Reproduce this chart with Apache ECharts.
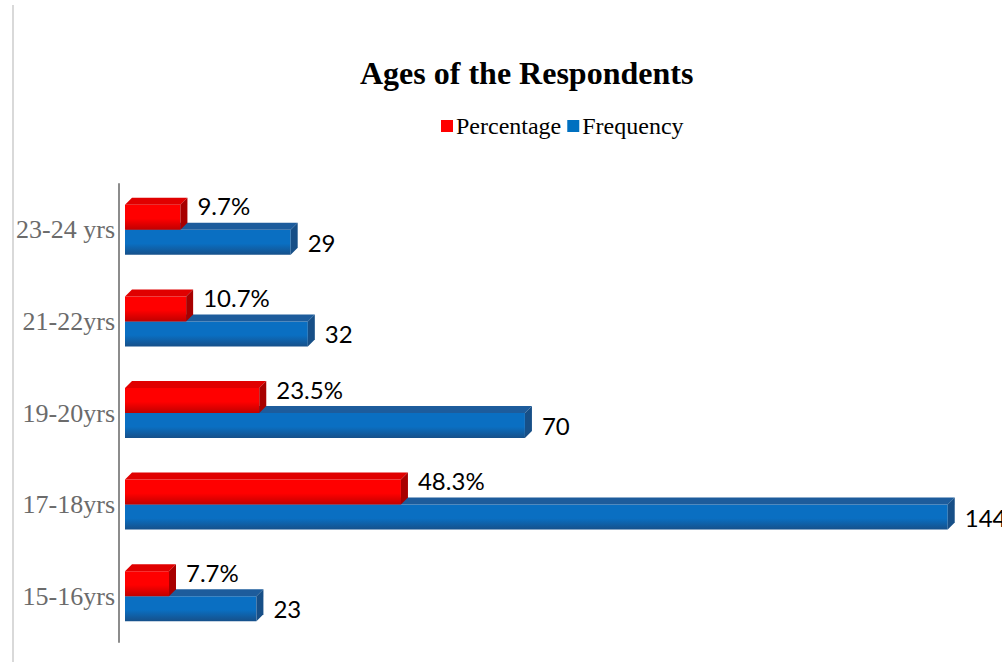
<!DOCTYPE html>
<html>
<head>
<meta charset="utf-8">
<script src="https://cdn.jsdelivr.net/npm/echarts@6/dist/echarts.min.js"></script>
<style>
html,body{margin:0;padding:0;background:#fff;}
#chart{width:1002px;height:662px;}
</style>
</head>
<body>
<div id="chart"></div>
<script>
const categories = ['15-16yrs', '17-18yrs', '19-20yrs', '21-22yrs', '23-24 yrs'];
const percentage = [7.7, 48.3, 23.5, 10.7, 9.7];
const frequency = [23, 144, 70, 32, 29];
const seriesNames = ['Percentage', 'Frequency'];

const BAR_H = 25, DEPTH = 7;

const palette = {
  Percentage: { front: '#ff0000', top: '#e00000', side: '#a80000', edge: '#c00000' },
  Frequency: { front: '#0a6fc2', top: '#1d5c9c', side: '#174f87', edge: '#16508a' }
};

function makeRender(name, above, fmt) {
  const c = palette[name];
  return function (params, api) {
    const v = api.value(0);
    const idx = api.value(1);
    const s = api.coord([0, idx]);
    const e = api.coord([v, idx]);
    const x0 = s[0], x1 = e[0], cy = s[1];
    const top = above ? cy - BAR_H : cy;
    const bottom = top + BAR_H;
    const d = DEPTH;
    const labelY = above ? top + 1 : top + BAR_H / 2;
    return {
      type: 'group',
      children: [
        { type: 'rect', shape: { x: x0, y: top, width: x1 - x0, height: BAR_H },
          style: { fill: new echarts.graphic.LinearGradient(0, 0, 0, 1, [
            { offset: 0, color: c.front }, { offset: 0.55, color: c.front }, { offset: 1, color: c.edge }]) } },
        { type: 'polygon', shape: { points: [[x0, top], [x0 + d, top - d], [x1 + d, top - d], [x1, top]] },
          style: { fill: c.top } },
        { type: 'polygon', shape: { points: [[x1, top], [x1 + d, top - d], [x1 + d, bottom - d], [x1, bottom]] },
          style: { fill: c.side } },
        { type: 'text', style: { text: fmt(v), x: x1 + d + 10, y: labelY,
          verticalAlign: 'middle', align: 'left', fill: '#000',
          font: '24px Lato, "Open Sans", sans-serif' } }
      ]
    };
  };
}

const chart = echarts.init(document.getElementById('chart'), null, { renderer: 'svg' });
chart.setOption({
  backgroundColor: '#fff',
  animation: false,
  title: {
    text: 'Ages of the Respondents',
    left: 355, top: 52,
    textStyle: { fontFamily: '"Liberation Serif", serif', fontWeight: 'bold', fontSize: 32, color: '#000' }
  },
  legend: {
    data: seriesNames,
    left: 436, top: 109,
    icon: 'rect', itemWidth: 12, itemHeight: 12, itemGap: 6,
    textStyle: { fontFamily: '"Liberation Serif", serif', fontSize: 24, color: '#000', padding: [0, 0, 0, -2] }
  },
  grid: { left: 125, right: 20, top: 184, bottom: 20 },
  xAxis: {
    type: 'value', min: 0, max: 150,
    show: false, splitLine: { show: false }
  },
  yAxis: {
    type: 'category', data: categories, offset: 6,
    axisLine: { show: true, onZero: false, lineStyle: { color: '#8c8c8c', width: 2 } },
    axisTick: { show: false },
    axisLabel: { margin: 4, color: '#6b6b6b', fontFamily: '"Liberation Serif", serif', fontSize: 26, padding: [38, 0, 0, 0] }
  },
  graphic: [
    { type: 'line', shape: { x1: 13, y1: 5, x2: 13, y2: 662 }, style: { stroke: '#d9d9d9', lineWidth: 2 }, silent: true }
  ],
  series: [
    {
      name: 'Frequency', type: 'custom', z: 2,
      itemStyle: { color: '#0070c0' },
      encode: { x: 0, y: 1 },
      renderItem: makeRender('Frequency', false, v => String(v)),
      data: frequency.map((v, i) => [v, i])
    },
    {
      name: 'Percentage', type: 'custom', z: 3,
      itemStyle: { color: '#ff0000' },
      encode: { x: 0, y: 1 },
      renderItem: makeRender('Percentage', true, v => v.toFixed(1) + '%'),
      data: percentage.map((v, i) => [v, i])
    }
  ]
});
</script>
</body>
</html>
